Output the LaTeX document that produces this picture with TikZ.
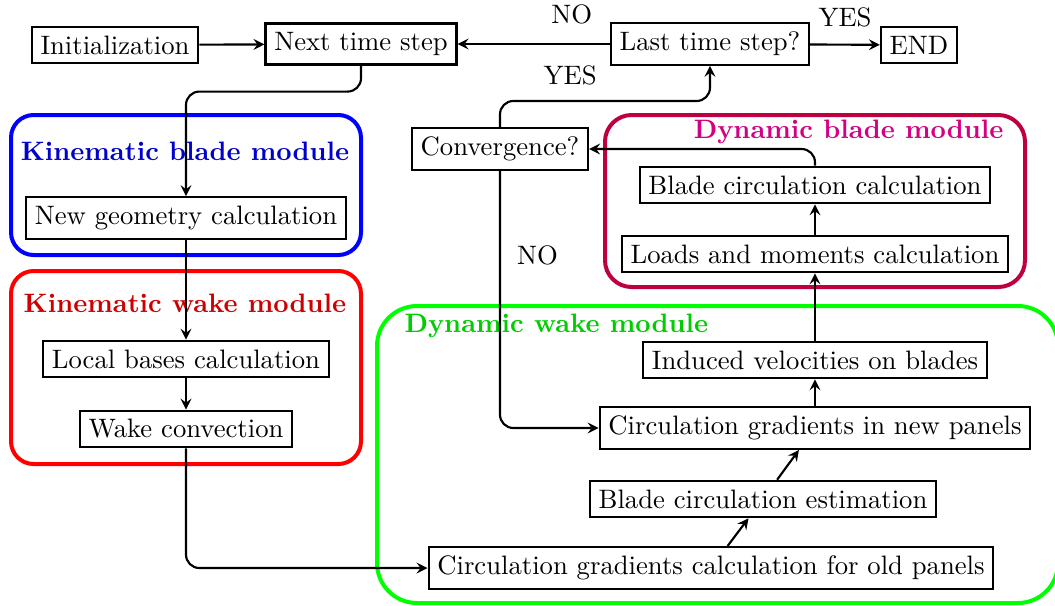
\documentclass[tikz,border=0pt]{standalone}
\usepackage{amsmath}
\usepackage{tikz}
\usepackage{xcolor}

\definecolor{kbtext}{RGB}{0,0,204}
\definecolor{kwtext}{RGB}{204,0,0}
\definecolor{dwtext}{RGB}{0,204,0}
\definecolor{dbframe}{RGB}{191,0,64}
\definecolor{dbtext}{RGB}{210,0,130}

\tikzset{
  blk/.style={draw,thick,fill=white,inner sep=3.3pt},
  lbl/.style={inner sep=0pt},
  modframe/.style={line width=1.5pt,rounded corners=8.5pt},
  modtitle/.style={inner sep=0pt,font=\bfseries},
  flow/.style={thick,-stealth},
}

\begin{document}
\begin{tikzpicture}[x=0.375pt,y=-0.375pt]
        \useasboundingbox (0,0) rectangle (1055,605);

        % module frames
        \draw[modframe,blue] (11,115) rectangle (361,255);
        \draw[modframe,red] (11,271) rectangle (361,464);
        \draw[modframe,green,rounded corners=15pt] (377,306) rectangle (1058,603);
        \draw[modframe,dbframe,rounded corners=10pt] (605,115) rectangle (1025,287);

        \node[modtitle,text=kbtext] (kbtitle) at (185,151) {Kinematic blade module};
        \node[modtitle,text=kwtext] (kwtitle) at (185,303) {Kinematic wake module};
        \node[modtitle,text=dwtext,anchor=west] (dwtitle) at (404,326) {Dynamic wake module};
        \node[modtitle,text=dbtext,anchor=east] (dbtitle) at (1004,132) {Dynamic blade module};

        % steps
        \node[blk] (init) at (115,45) {Initialization};
        \node[blk] (next) at (361,44) {Next time step};
        \node[blk] (last) at (710,44) {Last time step?};
        \node[blk] (end) at (919,45) {END};
        \node[blk] (conv) at (500,149) {Convergence?};
        \node[blk] (newgeo) at (186,218) {New geometry calculation};
        \node[blk] (locbas) at (186,359) {Local bases calculation};
        \node[blk] (wakeconv) at (186,429) {Wake convection};
        \node[blk] (bladecirc) at (815,185) {Blade circulation calculation};
        \node[blk] (loads) at (815,254) {Loads and moments calculation};
        \node[blk] (indvel) at (815,360) {Induced velocities on blades};
        \node[blk] (circnew) at (815,428) {Circulation gradients in new panels};
        \node[blk] (bladeest) at (763,499) {Blade circulation estimation};
        \node[blk] (circold) at (711,568) {Circulation gradients calculation for old panels};

        % connectors
        \draw[flow] (init) -- (next);
        \draw[flow] (last) -- (next) node[lbl,pos=0.25,above=7pt] {NO};
        \draw[flow] (last) -- (end) node[lbl,midway,above=6pt] {YES};
        \draw[flow,rounded corners=5pt] (next.south) -- ++(0,26) -| (newgeo.north);
        \draw[flow] (newgeo) -- (locbas);
        \draw[flow] (locbas) -- (wakeconv);
        \draw[flow,rounded corners=5pt] (wakeconv.south) |- (circold.west);
        \draw[flow] (circold) -- (bladeest);
        \draw[flow] (bladeest) -- (circnew);
        \draw[flow] (circnew) -- (indvel);
        \draw[flow] (indvel) -- (loads);
        \draw[flow] (loads) -- (bladecirc);
        \draw[flow,rounded corners=5pt] (bladecirc.north) |- (conv.east);
        \draw[flow,rounded corners=5pt] (conv.north) -- ++(0,-26) -| (last.south)
            node[lbl,pos=0.167,above=5.5pt] {YES};
        \draw[flow,rounded corners=5pt] (conv.south) |- (circnew.west)
            node[lbl,pos=0.164,right=6pt] {NO};
    \end{tikzpicture}
\end{document}
